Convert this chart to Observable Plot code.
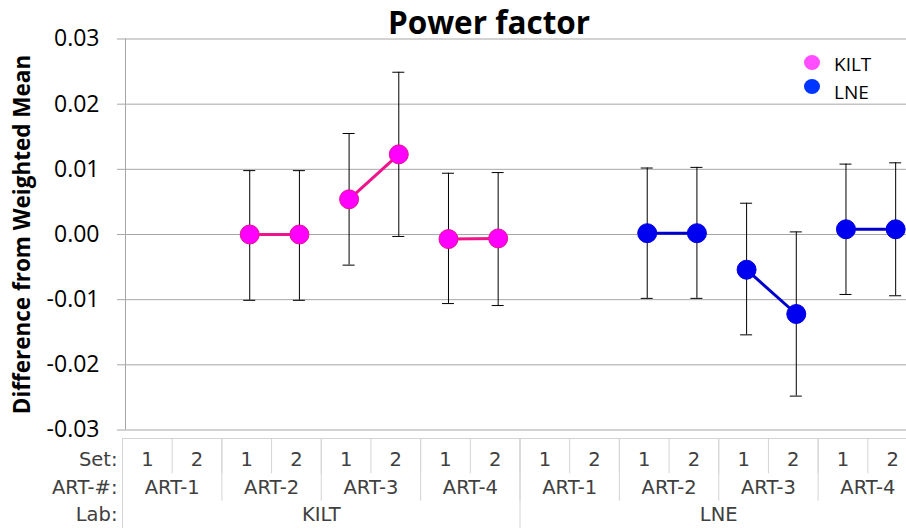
<!DOCTYPE html>
<html><head><meta charset="utf-8">
<script src="https://cdn.jsdelivr.net/npm/d3@7"></script>
<script src="https://cdn.jsdelivr.net/npm/@observablehq/plot@0.6"></script>
<style>
body{margin:0;background:#fff;}
#wrap{position:relative;width:906px;height:528px;overflow:hidden;background:#fff;font-family:"Open Sans",sans-serif;}
#wrap svg{position:absolute;left:0;overflow:visible;}
#title{position:absolute;left:289px;width:400px;top:2px;text-align:center;font-weight:bold;font-size:31.5px;line-height:40px;color:#000;}
.legdot{position:absolute;width:16px;height:15px;border-radius:50%;}
.legtxt{position:absolute;font-size:19px;line-height:22px;color:#000;}
#topline{position:absolute;left:122px;top:438px;width:784px;height:1px;background:#d4d4d4;z-index:2;}
</style></head><body><div id="wrap"></div>
<script>
const titleText = "Power factor";
const yLabel = "Difference from Weighted Mean";
const labs = ["KILT", "LNE"];
const arts = ["ART-1", "ART-2", "ART-3", "ART-4"];
const sets = ["1", "2"];
const rowHeaders = ["Set:", "ART-#:", "Lab:"];
const yTicks = [-0.03, -0.02, -0.01, 0, 0.01, 0.02, 0.03];

// values per ART/Set (ART-1 set 1, ART-1 set 2, ART-2 set 1, ...)
const kiltValue = [null, null, 0.0000, 0.0000, 0.0054, 0.0123, -0.0007, -0.0006];
const kiltHi    = [null, null, 0.0098, 0.0098, 0.0155, 0.0249, 0.0094, 0.0095];
const kiltLo    = [null, null, -0.0101, -0.0101, -0.0047, -0.0003, -0.0106, -0.0109];
const lneValue  = [null, null, 0.0002, 0.0002, -0.0054, -0.0122, 0.0008, 0.0008];
const lneHi     = [null, null, 0.0102, 0.0103, 0.0048, 0.0004, 0.0108, 0.0110];
const lneLo     = [null, null, -0.0098, -0.0098, -0.0154, -0.0248, -0.0092, -0.0094];

const colors = {
  KILT: {line: "#f0148c", fill: "#ff00ff", stroke: "#e8108c", legend: "#ff4dff"},
  LNE:  {line: "#0000cc", fill: "#0000f0", stroke: "#0000e0", legend: "#0035ff"}
};
const gridColor = "#a6a6a6";
const sepColor = "#d4d4d4";

const series = {
  KILT: {value: kiltValue, hi: kiltHi, lo: kiltLo},
  LNE: {value: lneValue, hi: lneHi, lo: lneLo}
};
const rows = [];
labs.forEach(lab => arts.forEach((art, ai) => sets.forEach((set, si) => {
  const i = ai * 2 + si;
  rows.push({lab, art, set, key: `${lab}|${art}|${set}`,
    value: series[lab].value[i], hi: series[lab].hi[i], lo: series[lab].lo[i]});
})));
const keys = rows.map(d => d.key);
const pts = rows.filter(d => d.value != null);

const X0 = 125, X1 = 920;
const bw = (X1 - X0) / keys.length;
const xScale = {type: "band", domain: keys, range: [X0, X1], padding: 0, round: false, axis: null};
const xAxisScale = {type: "band", domain: keys, range: [X0 - 3, X1 - 3], padding: 0, round: false, axis: null};

const main = Plot.plot({
  width: 906, height: 438,
  marginTop: 38.5, marginBottom: 8.5, marginLeft: 125, marginRight: 0,
  style: {fontFamily: "Open Sans", background: "transparent", color: "#000", overflow: "visible"},
  x: xScale,
  y: {domain: [-0.03, 0.03], axis: null},
  marks: [
    Plot.ruleY(yTicks, {stroke: gridColor, strokeWidth: 1, insetLeft: -8}),
    Plot.ruleX([keys[0]], {dx: -bw / 2, stroke: gridColor}),
    Plot.axisY({ticks: yTicks, tickFormat: d => d.toFixed(2), tickSize: 0, tickPadding: 26, fontSize: 23, label: null, fill: "#000"}),
    Plot.ruleX(pts, {x: "key", y1: "lo", y2: "hi", stroke: "#000", strokeWidth: 1}),
    Plot.tickY(pts, {x: "key", y: "hi", inset: (bw - 12) / 2, stroke: "#000", strokeWidth: 1}),
    Plot.tickY(pts, {x: "key", y: "lo", inset: (bw - 12) / 2, stroke: "#000", strokeWidth: 1}),
    ...labs.map(lab => Plot.line(pts.filter(d => d.lab === lab), {x: "key", y: "value", z: "art", stroke: colors[lab].line, strokeWidth: 3})),
    ...labs.map(lab => Plot.dot(pts.filter(d => d.lab === lab), {x: "key", y: "value", r: 9.5, fill: colors[lab].fill, stroke: colors[lab].stroke, strokeWidth: 1})),
    Plot.text([yLabel], {frameAnchor: "left", textAnchor: "middle", dx: -103, rotate: -90, fontWeight: "bold", fontSize: 22.5, fill: "#000"})
  ]
});
main.style.top = "0px";

const axisPlot = Plot.plot({
  width: 906, height: 90, margin: 0,
  style: {fontFamily: "DejaVu Sans", background: "transparent", color: "#404040", overflow: "visible"},
  x: xAxisScale,
  y: {type: "band", domain: rowHeaders, range: [8, 90], padding: 0, round: false, axis: null},
  marks: [
    Plot.ruleX(rows, {x: "key", y1: () => rowHeaders[0], y2: () => rowHeaders[0], dx: -bw / 2, insetTop: -8, stroke: sepColor}),
    Plot.ruleX(rows.filter(d => d.set === sets[0]), {x: "key", y1: () => rowHeaders[0], y2: () => rowHeaders[1], dx: -bw / 2, insetTop: -8, stroke: sepColor}),
    Plot.ruleX(rows.filter(d => d.art === arts[0] && d.set === sets[0]), {x: "key", y1: () => rowHeaders[0], y2: () => rowHeaders[2], dx: -bw / 2, insetTop: -8, stroke: sepColor}),
    Plot.text(rows, {x: "key", y: () => rowHeaders[0], text: "set", fontSize: 19.5, fill: "#404040"}),
    Plot.text(rows.filter(d => d.set === sets[0]), {x: "key", y: () => rowHeaders[1], text: "art", dx: bw / 2, fontSize: 19.5, fill: "#404040"}),
    Plot.text(rows.filter(d => d.art === arts[1] && d.set === sets[1]), {x: "key", y: () => rowHeaders[2], text: "lab", dx: bw / 2, fontSize: 19.5, fill: "#404040"}),
    Plot.text(rowHeaders, {x: () => keys[0], y: d => d, text: d => d, dx: -bw / 2 - 5, textAnchor: "end", fontSize: 19.5, fill: "#404040"})
  ]
});
axisPlot.style.top = "438px";

const wrap = document.getElementById("wrap");
wrap.appendChild(main);
wrap.appendChild(axisPlot);
const line = document.createElement("div"); line.id = "topline"; wrap.appendChild(line);
const t = document.createElement("div"); t.id = "title"; t.textContent = titleText; wrap.appendChild(t);

// legend
const legY = [{dot: 55, txt: 53}, {dot: 79, txt: 81}];
labs.forEach((lab, i) => {
  const d = document.createElement("div"); d.className = "legdot";
  d.style.left = "804px"; d.style.top = legY[i].dot + "px"; d.style.background = colors[lab].legend;
  wrap.appendChild(d);
  const s = document.createElement("div"); s.className = "legtxt";
  s.style.left = "834px"; s.style.top = legY[i].txt + "px"; s.textContent = lab;
  wrap.appendChild(s);
});
</script></body></html>
